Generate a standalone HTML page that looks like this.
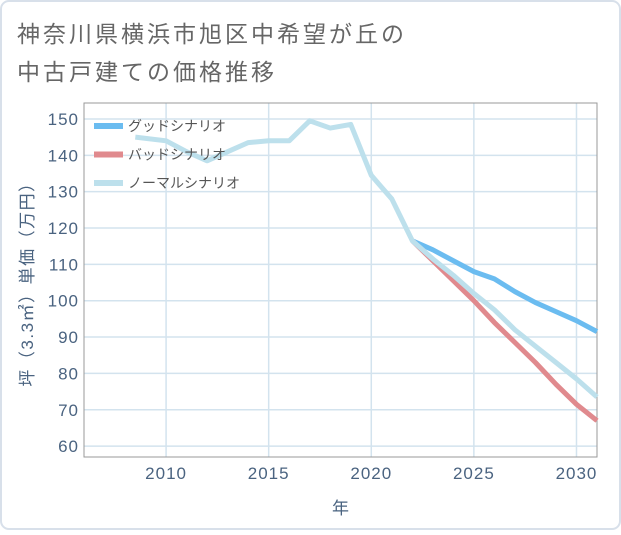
<!DOCTYPE html>
<html><head><meta charset="utf-8"><style>
body{margin:0;background:#fff;}
svg text{font-family:"Liberation Sans","Noto Sans CJK JP",sans-serif;}
</style></head><body>
<svg width="621" height="530" viewBox="0 0 621 530">
<rect x="1" y="1" width="619" height="528" rx="8" fill="#fff" stroke="#d8e0ea" stroke-width="2"/>
<text x="17" y="42" font-size="23" letter-spacing="3" fill="#666">神奈川県横浜市旭区中希望が丘の</text>
<text x="17" y="80" font-size="23" letter-spacing="3" fill="#666">中古戸建ての価格推移</text>
<g id="grid"></g>
<g id="series"></g>
<g id="axes"></g>
<g id="legend"></g>
</svg>
<script>
const xTicks=[2010,2015,2020,2025,2030];
const yTicks=[60,70,80,90,100,110,120,130,140,150];
const normalYears=[2008.5,2010,2011,2012,2013,2014,2015,2016,2017,2018,2019,2020,2021,2022,2023,2024,2025,2026,2027,2028,2029,2030,2031];
const normalVals=[145,144,141,138.5,141,143.5,144,144,149.5,147.5,148.5,134.5,128,116.5,111.5,107,102,97.5,92,87.5,83,78.5,73.5];
const futureYears=[2022,2023,2024,2025,2026,2027,2028,2029,2030,2031];
const goodVals=[116.5,114,111,108,106,102.5,99.5,97,94.5,91.5];
const badVals=[116.5,111,105.5,100,94,88.5,83,77,71.5,67];
const L=84,R=597,T=103,B=457,x0=2006,x1=2031,y0=57,y1=154.4;
const sx=v=>L+(v-x0)/(x1-x0)*(R-L);
const sy=v=>B-(v-y0)/(y1-y0)*(B-T);
const NS="http://www.w3.org/2000/svg";
function mk(tag,attrs,parent){const e=document.createElementNS(NS,tag);for(const k in attrs)e.setAttribute(k,attrs[k]);document.getElementById(parent).appendChild(e);return e;}
xTicks.forEach(t=>{const l=mk('line',{x1:sx(t),x2:sx(t),y1:T,y2:B,stroke:'#d3e3ee','stroke-width':1.5},'grid');


const tx=mk('text',{x:sx(t),y:B+22,'font-size':17,'letter-spacing':1,fill:'#4a6380','text-anchor':'middle'},'axes');tx.textContent=t;

});
yTicks.forEach(t=>{const l=mk('line',{x1:L,x2:R,y1:sy(t),y2:sy(t),stroke:'#d3e3ee','stroke-width':1.5},'grid');


const tx=mk('text',{x:L-5,y:sy(t)+6,'font-size':17,'letter-spacing':1,fill:'#4a6380','text-anchor':'end'},'axes');tx.textContent=t;

});
const fr=mk('rect',{x:L,y:T,width:R-L,height:B-T,fill:'none',stroke:'#999','stroke-width':1},'grid');


function line(xs,ys,color,name){const p=mk('polyline',{points:xs.map((x,i)=>sx(x)+','+sy(ys[i])).join(' '),fill:'none',stroke:color,'stroke-width':5,'stroke-linejoin':'round'},'series');

}
line(futureYears,goodVals,'#6bbcf0','good-scenario-line');
line(futureYears,badVals,'#e08a8e','bad-scenario-line');
line(normalYears,normalVals,'#bde0ec','normal-scenario-line');
const xt=mk('text',{x:(L+R)/2,y:514,'font-size':17,fill:'#4a6380','text-anchor':'middle'},'axes');xt.textContent='年';


const yt=mk('text',{x:0,y:0,'font-size':17,'letter-spacing':1.5,fill:'#4a6380','text-anchor':'middle',transform:'translate(33,'+((T+B)/2)+') rotate(-90)'},'axes');yt.textContent='坪（3.3㎡）単価（万円）';


const leg=[['グッドシナリオ','#6bbcf0'],['バッドシナリオ','#e08a8e'],['ノーマルシナリオ','#bde0ec']];
leg.forEach((d,i)=>{const y=126+i*28.5;
const r=mk('rect',{x:94,y:y-3,width:29,height:6,fill:d[1]},'legend');


const t=mk('text',{x:128,y:y+5,'font-size':14,fill:'#555'},'legend');t.textContent=d[0];

});
</script>
</body></html>
